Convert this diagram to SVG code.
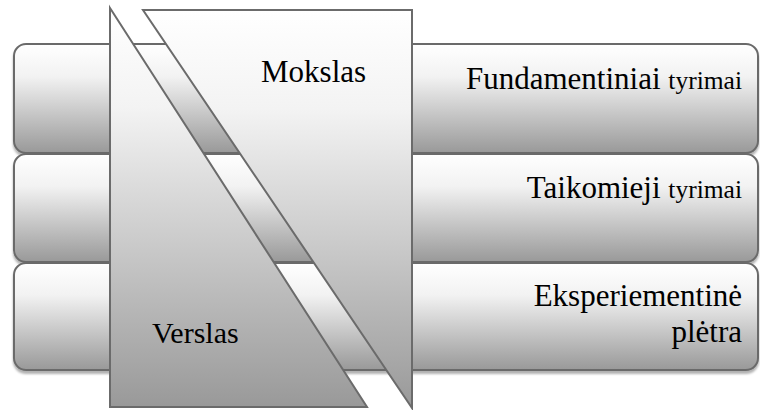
<svg xmlns="http://www.w3.org/2000/svg" width="760" height="410" viewBox="0 0 760 410">
<defs>
<linearGradient id="gBar" x1="0" y1="0" x2="0" y2="1">
<stop offset="0" stop-color="#ffffff"/>
<stop offset="0.3" stop-color="#f2f2f2"/>
<stop offset="1" stop-color="#999999"/>
</linearGradient>
<linearGradient id="gTri" x1="0" y1="0" x2="0" y2="1">
<stop offset="0" stop-color="#ffffff"/>
<stop offset="0.25" stop-color="#f3f3f3"/>
<stop offset="1" stop-color="#999999"/>
</linearGradient>
<filter id="sh" x="-5%" y="-10%" width="110%" height="130%">
<feDropShadow dx="0" dy="3" stdDeviation="1.2" flood-color="#000" flood-opacity="0.3"/>
</filter>
</defs>
<style>
.bar{fill:url(#gBar);stroke:#6b6b6b;stroke-width:2;filter:url(#sh)}
.tri{fill:url(#gTri);stroke:#6b6b6b;stroke-width:2}
</style>
<g id="row1"><rect class="bar" x="14" y="44" width="744" height="109" rx="12"/></g>
<g id="row2"><rect class="bar" x="14" y="154" width="744" height="108" rx="12"/></g>
<g id="row3"><rect class="bar" x="14" y="263" width="744" height="107" rx="12"/></g>
<g id="mokslas"><polygon class="tri" points="143,10 412,10 412,408"/></g>
<g id="verslas"><polygon class="tri" points="110,8 367,407 110,407"/></g>
<g id="connectors"/>
<g id="labels" fill="#000">
<text font-family="Liberation Serif" font-size="31" x="261" y="82">Mokslas</text>
<text font-family="Liberation Serif" font-size="31" x="742" y="89" text-anchor="end">Fundamentiniai <tspan font-size="25.5">tyrimai</tspan></text>
<text font-family="Liberation Serif" font-size="31" x="742" y="198" text-anchor="end">Taikomieji <tspan font-size="25.5">tyrimai</tspan></text>
<text font-family="Liberation Serif" font-size="31" x="742" y="306" text-anchor="end">Eksperiementinė</text>
<text font-family="Liberation Serif" font-size="31" x="742" y="342" text-anchor="end">plėtra</text>
<text font-family="Liberation Serif" font-size="30" x="152" y="343">Verslas</text>
</g>
</svg>
